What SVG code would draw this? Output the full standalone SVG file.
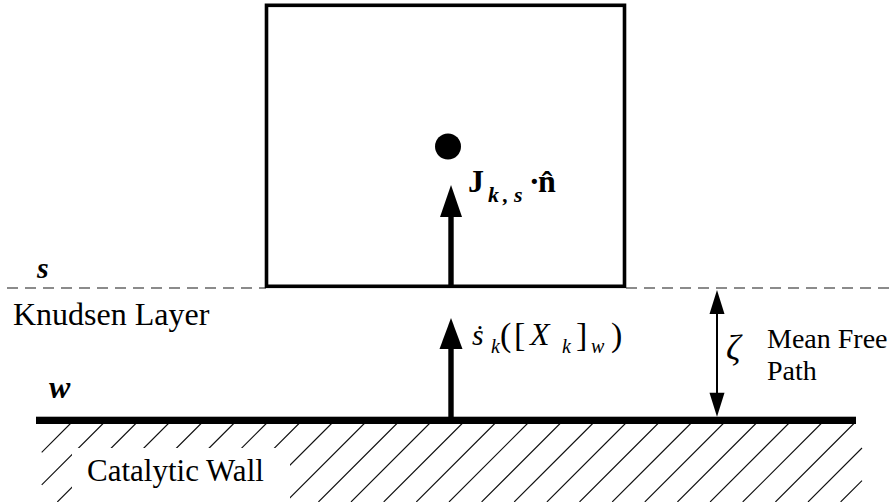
<svg xmlns="http://www.w3.org/2000/svg" width="894" height="502" viewBox="0 0 894 502">
  <style>
    .dash { stroke: #666; stroke-width: 1.3; stroke-dasharray: 11 7; fill: none; }
    .hatch { stroke: #111; stroke-width: 1.1; fill: none; }
    .head { fill: #000; }
  </style>
  <rect width="894" height="502" fill="#fff"/>

  <g id="surface-s">
    <line class="dash" x1="7" y1="288" x2="266" y2="288"/>
    <line class="dash" x1="626" y1="288" x2="894" y2="288"/>
    <text x="37" y="278" font-size="30" font-family="Liberation Serif" font-weight="bold" font-style="italic">s</text>
  </g>

  <g id="control-volume">
    <rect x="266.5" y="5.3" width="358" height="281" fill="none" stroke="#000" stroke-width="3.6"/>
    <circle cx="448" cy="146.5" r="13" fill="#000"/>
    <text x="468" y="192" font-size="32" font-family="Liberation Serif" font-weight="bold">J</text>
    <text x="488" y="202" font-size="22" font-family="Liberation Serif" font-weight="bold" font-style="italic">k</text>
    <text x="503" y="202" font-size="22" font-family="Liberation Serif" font-weight="bold" font-style="italic">,</text>
    <text x="514" y="202" font-size="22" font-family="Liberation Serif" font-weight="bold" font-style="italic">s</text>
    <text x="529" y="192" font-size="32" font-family="Liberation Serif" font-weight="bold">·</text>
    <text x="538" y="192" font-size="32" font-family="Liberation Serif" font-weight="bold">n̂</text>
  </g>

  <g id="knudsen-layer">
    <text x="13" y="325" font-size="32" font-family="Liberation Serif">Knudsen Layer</text>
    <text x="472" y="345" font-size="30" font-family="Liberation Serif" font-style="italic">ṡ</text>
    <text x="491" y="353" font-size="20" font-family="Liberation Serif" font-style="italic">k</text>
    <text x="500" y="346" font-size="34" font-family="Liberation Serif">(</text>
    <text x="514" y="346" font-size="34" font-family="Liberation Serif">[</text>
    <text x="530" y="345" font-size="32" font-family="Liberation Serif" font-style="italic">X</text>
    <text x="562" y="353" font-size="20" font-family="Liberation Serif" font-style="italic">k</text>
    <text x="576" y="346" font-size="34" font-family="Liberation Serif">]</text>
    <text x="591" y="353" font-size="20" font-family="Liberation Serif" font-style="italic">w</text>
    <text x="611" y="346" font-size="34" font-family="Liberation Serif">)</text>
  </g>

  <g id="mean-free-path">
    <text x="726" y="360" font-size="36" font-family="Liberation Serif" font-style="italic">ζ</text>
    <text x="767" y="348" font-size="28" font-family="Liberation Serif">Mean Free</text>
    <text x="767" y="380" font-size="28" font-family="Liberation Serif">Path</text>
  </g>

  <g id="catalytic-wall">
    <path class="hatch" d="M70.5 423.5L41.7 452.3M103.1 423.5L41.7 484.9M135.8 423.5L57.3 502M168.4 423.5L89.9 502M201.1 423.5L122.6 502M233.7 423.5L155.2 502M266.3 423.5L187.8 502M299 423.5L220.5 502M331.6 423.5L253.1 502M364.3 423.5L285.8 502M396.9 423.5L318.4 502M429.5 423.5L351 502M462.2 423.5L383.7 502M494.8 423.5L416.3 502M527.5 423.5L449 502M560.1 423.5L481.6 502M592.7 423.5L514.2 502M625.4 423.5L546.9 502M658 423.5L579.5 502M690.7 423.5L612.2 502M723.3 423.5L644.8 502M755.9 423.5L677.4 502M788.6 423.5L710.1 502M821.2 423.5L742.7 502M853.9 423.5L775.4 502M862 448L808 502M862 480.6L840.6 502"/>
    <rect x="72" y="448" width="218" height="54" fill="#fff"/>
    <rect x="36" y="416.7" width="820" height="7.3" fill="#000"/>
    <text x="87" y="481" font-size="31" font-family="Liberation Serif">Catalytic Wall</text>
    <text x="49" y="398" font-size="32" font-family="Liberation Serif" font-weight="bold" font-style="italic">w</text>
  </g>

  <g id="connectors">
    <rect x="448.3" y="214" width="5.4" height="73"/>
    <polygon class="head" points="451,185 440,217 462,217"/>
    <rect x="448.3" y="346" width="5.4" height="71"/>
    <polygon class="head" points="451,318 439.5,349 462.5,349"/>
    <line x1="717" y1="310" x2="717" y2="396" stroke="#000" stroke-width="2"/>
    <polygon class="head" points="717,290 709.5,314 724.5,314"/>
    <polygon class="head" points="717,416.7 709.5,392.7 724.5,392.7"/>
  </g>
</svg>
